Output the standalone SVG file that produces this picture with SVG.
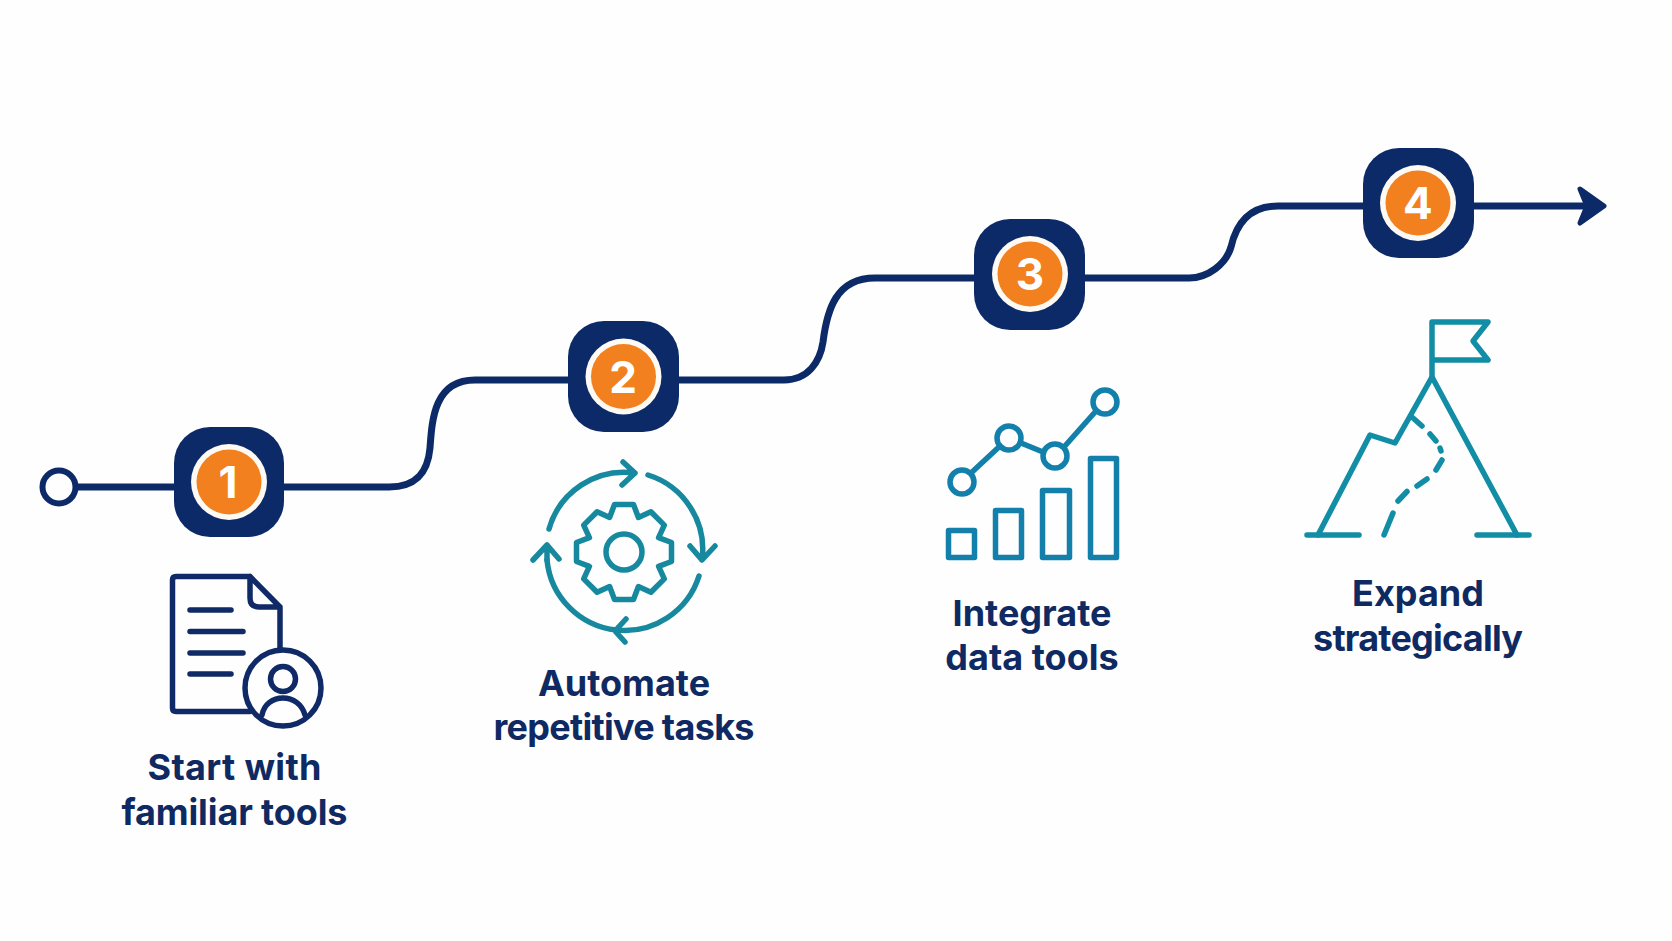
<svg xmlns="http://www.w3.org/2000/svg" width="1672" height="941" viewBox="0 0 1672 941">
<style>
.tile{fill:#0c2a68}
.halo{fill:#fdf9f3}
.disc{fill:#f2801f}
.num{font-family:Inter,"Liberation Sans",sans-serif;font-weight:700;font-size:44px;fill:#fff;text-anchor:middle}
.lab{font-family:Inter,"Liberation Sans",sans-serif;font-weight:700;font-size:36px;fill:#0f2a62;text-anchor:middle}
.ln{fill:none;stroke-width:5.5;stroke-linecap:round;stroke-linejoin:round}
.navy{stroke:#0f2a66}
.teal{stroke:#16899f}
.blue{stroke:#1280ab}
.mnt{stroke:#118da5}
</style>
<defs>
<marker id="head" markerUnits="userSpaceOnUse" markerWidth="46" markerHeight="50" refX="16" refY="25" orient="auto">
<path d="M6,8 L30,25 L6,42 L13,25 Z" fill="#0c2a68" stroke="#0c2a68" stroke-width="5" stroke-linejoin="round"/>
</marker>
</defs>
<rect width="1672" height="941" fill="#fefefe"/>
<g id="connectors">
<path d="M75,487 H389 C418,487 428,470 430,448 C432,420 434,380 475,380 H784 C808,380 820,362 823,342 C827,310 836,278 875,278 H1189 C1208,278 1226,264 1231,247 C1236,225 1248,206 1278,206 H1590" fill="none" stroke="#0c2a68" stroke-width="7" marker-end="url(#head)"/>
<circle cx="59" cy="487" r="16.5" fill="#fefefe" stroke="#0c2a68" stroke-width="6"/>
</g>
<g id="node1">
<rect class="tile" x="174" y="427" width="110" height="110" rx="36"/>
<circle class="halo" cx="229" cy="482" r="38"/>
<circle class="disc" cx="229" cy="482" r="32.5"/>
<text class="num" x="228" y="498">1</text>
<g id="icon1" class="ln navy">
<path d="M250,576.5 H176 Q172.500,576.500 172.500,580 V708 Q172.500,711.500 176,711.500 H250 M280,650 V607 L250,576.500 V598 Q250,607 259,607 H280"/>
<path d="M190,610 H231 M190,631.500 H243 M190,653 H243 M190,674 H231"/>
<circle cx="283" cy="688" r="38" fill="#fefefe"/>
<circle cx="283" cy="679" r="12.500"/>
<path d="M262,715 C264,704 273,698 283,698 C293,698 302,704 305,715"/>
</g>
<text class="lab" x="234.500" y="780" textLength="174">Start with</text>
<text class="lab" x="234.500" y="825" textLength="226">familiar tools</text>
</g>
<g id="node2">
<rect class="tile" x="568" y="321" width="111" height="111" rx="36"/>
<circle class="halo" cx="623.500" cy="376.500" r="38"/>
<circle class="disc" cx="623.500" cy="376.500" r="32.500"/>
<text class="num" x="623" y="393">2</text>
<g id="icon2" class="ln teal">
<path d="M614.500,504.500 L633.500,504.500 L638.400,517.400 L650.900,511.700 L664.300,525.100 L658.600,537.600 L671.500,542.500 L671.500,561.500 L658.600,566.400 L664.300,578.900 L650.900,592.300 L638.400,586.600 L633.500,599.500 L614.500,599.500 L609.600,586.600 L597.100,592.300 L583.700,578.900 L589.400,566.400 L576.500,561.500 L576.500,542.500 L589.400,537.600 L583.700,525.100 L597.100,511.700 L609.600,517.400 Z"/>
<circle cx="624" cy="552" r="18"/>
<path d="M549,529 A78,78 0 0 1 635,473 M623,462 L635,473 L622,485"/>
<path d="M648,475 A78,78 0 0 1 702,560 M690,546 L702,560 L715,546"/>
<path d="M699,576 A78,78 0 0 1 547,560 M626,619 L615,631 L625,642"/>
<path d="M547,560 L547,545 M533,560 L547,545 L559,559"/>
</g>
<text class="lab" x="624" y="696">Automate</text>
<text class="lab" x="624" y="740" textLength="261">repetitive tasks</text>
</g>
<g id="node3">
<rect class="tile" x="974" y="219" width="111" height="111" rx="36"/>
<circle class="halo" cx="1030" cy="274" r="38"/>
<circle class="disc" cx="1030" cy="274" r="32.500"/>
<text class="num" x="1030" y="290">3</text>
<g id="icon3" class="ln blue">
<path d="M971,473 L1000,446 M1021,443 L1043,452 M1064,447 L1096,411"/>
<circle cx="962" cy="482" r="12"/>
<circle cx="1009" cy="438" r="12"/>
<circle cx="1055" cy="456" r="12"/>
<circle cx="1105" cy="402" r="12"/>
<rect x="948.500" y="530.500" width="26" height="27"/>
<rect x="995.500" y="510.500" width="26" height="47"/>
<rect x="1042.500" y="490.500" width="27" height="67"/>
<rect x="1090.500" y="458.500" width="26" height="99"/>
</g>
<text class="lab" x="1032" y="626">Integrate</text>
<text class="lab" x="1032" y="670">data tools</text>
</g>
<g id="node4">
<rect class="tile" x="1363" y="148" width="111" height="110" rx="36"/>
<circle class="halo" cx="1418" cy="203" r="38"/>
<circle class="disc" cx="1418" cy="203" r="32.500"/>
<text class="num" x="1418" y="219">4</text>
<g id="icon4" class="ln mnt">
<path d="M1432,377 V322 H1488 L1473,341 L1488,360 H1432"/>
<path d="M1318,535 L1370,435 L1395,443 L1432,377 L1517,535"/>
<path d="M1307,535 H1359 M1477,535 H1529"/>
<path d="M1413,418 L1422,426 M1430,434 L1436,441 M1440,448 L1441,451 M1442,460 L1436,470 M1427,479 L1417,486 M1407,491.500 L1398,501 M1393,513 L1384,535"/>
</g>
<text class="lab" x="1418" y="606">Expand</text>
<text class="lab" x="1418" y="651" textLength="210">strategically</text>
</g>
</svg>
